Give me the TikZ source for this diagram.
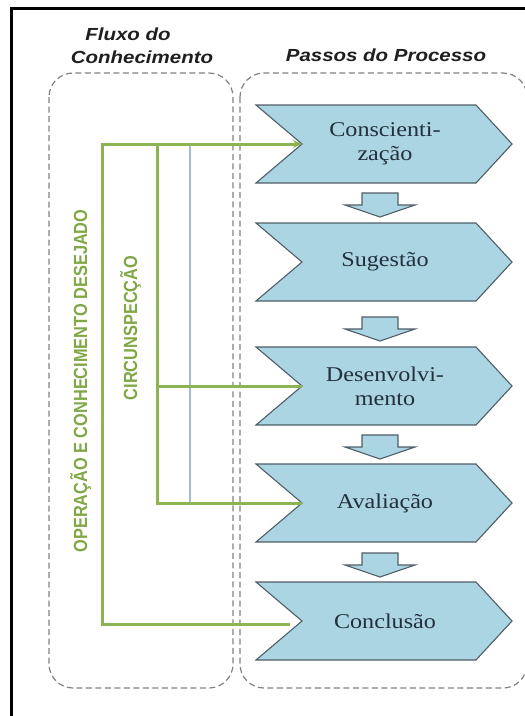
\documentclass[tikz,border=0pt]{standalone}
\usepackage{fontspec}
\setmainfont{Liberation Serif}
\newfontfamily\stepfont[FakeStretch=1.15]{Liberation Serif}
\newfontfamily\headfont[FakeStretch=1.17]{Liberation Sans}
\newfontfamily\flowfont[FakeStretch=0.86]{Liberation Sans}
\usetikzlibrary{arrows.meta}
\definecolor{stepfill}{HTML}{ACD5E4}
\definecolor{stepedge}{HTML}{505E68}
\definecolor{steptext}{HTML}{22303A}
\definecolor{flowgreen}{HTML}{8DB452}
\definecolor{flowtext}{HTML}{80A845}
\definecolor{flowblue}{HTML}{A3BCD6}
\definecolor{groupline}{HTML}{828282}

\begin{document}
\begin{tikzpicture}[x=1pt,y=-1pt,
  group/.style={draw=groupline, line width=1.2pt, dash pattern=on 6pt off 3.5pt, rounded corners=24pt},
  chev/.style={fill=stepfill, draw=stepedge, line width=1.1pt, line join=miter},
  steplabel/.style={font=\stepfont\fontsize{21}{24}\selectfont, text=steptext, align=center, inner sep=0pt},
  headlabel/.style={font=\headfont\bfseries\itshape\fontsize{17.5}{23}\selectfont, text=black!88, inner sep=0pt, anchor=base},
  flowlabel/.style={font=\flowfont\bfseries\fontsize{19}{22}\selectfont, text=flowtext, rotate=90, inner sep=0pt, anchor=base},
  flow/.style={draw=flowgreen, line width=3pt},
  thinflow/.style={draw=flowblue, line width=1.5pt},
  ]
\useasboundingbox (0,0) rectangle (525,716);
\clip (0,0) rectangle (525,716);
\fill[white] (0,0) rectangle (525,716);
% outer frame
\draw[line width=3pt] (11,8) rectangle (545,740);

% the two dashed groups
\draw[group] (49,73) rectangle (233,688);
\draw[group] (240,73) rectangle (527,688);

% column headings
\node[headlabel] (head-flux1) at (128,40) {Fluxo do};
\node[headlabel] (head-flux2) at (142,63) {Conhecimento};
\node[headlabel] (head-steps) at (386,61) {Passos do Processo};

% process steps as chevrons
\foreach \cy/\nm/\txt in {144/consc/{Conscienti-\\zação}, 262/suges/{Sugestão}, 386/desen/{Desenvolvi-\\mento}, 503/avali/{Avaliação}, 621/concl/{Conclusão}}{
  \draw[chev] (256,{\cy-39}) -- (476,{\cy-39}) -- (512,\cy) -- (476,{\cy+39})
              -- (256,{\cy+39}) -- (302,\cy) -- cycle;
  \node[steplabel] (\nm) at (385,\cy) {\txt};
  \coordinate (\nm-in) at (302,\cy);
}

% block arrows between steps
\foreach \t in {193,317,435,553}{
  \draw[chev] (362,\t) -- (398,\t) -- (398,{\t+12}) -- (415,{\t+12})
              -- (380,{\t+24}) -- (345,{\t+12}) -- (362,{\t+12}) -- cycle;
}

% knowledge flow lines
\coordinate (op-top) at (102,144);
\coordinate (op-bot) at (102,624);
\coordinate (concl-end) at (290,624);
\coordinate (ci-top) at (157,144);
\coordinate (ci-mid) at (157,386);
\coordinate (ci-bot) at (157,503);
\coordinate (bl-top) at (190,144);
\coordinate (bl-bot) at (190,503);

\draw[thinflow] (bl-top) -- (bl-bot);
\draw[flow, -{Stealth[length=9pt,width=8pt]}] (concl-end) -- (op-bot) -- (op-top) -- (consc-in);
\draw[flow] (avali-in) -- (ci-bot) -- (ci-top);
\draw[flow] (ci-mid) -- (desen-in);

% vertical labels
\node[flowlabel] (lbl-op) at (87,381) {OPERAÇÃO E CONHECIMENTO DESEJADO};
\node[flowlabel] (lbl-ci) at (137,328) {CIRCUNSPECÇÃO};
\end{tikzpicture}
\end{document}
